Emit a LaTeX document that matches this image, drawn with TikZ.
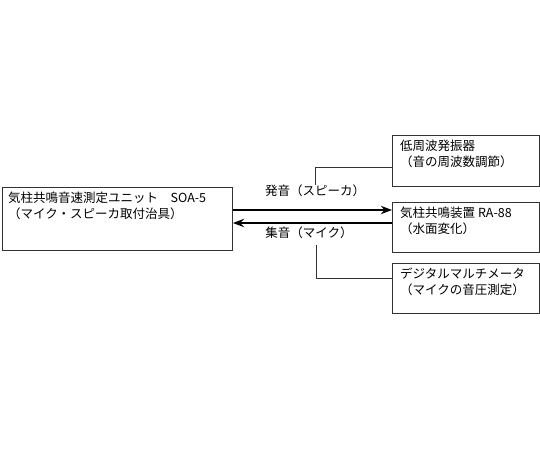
\documentclass[tikz,border=0pt]{standalone}
\usepackage{fontspec}
\setmainfont{Noto Sans CJK JP}
\usetikzlibrary{positioning,arrows.meta,calc}
\definecolor{edge}{HTML}{333333}
\tikzset{
  box/.style={rectangle,draw=edge,line width=0.9pt,inner sep=0pt,anchor=north west},
  txt/.style={inner sep=0pt,anchor=north west,align=left,
    font=\fontsize{12.5}{15.5}\selectfont},
  lbl/.style={inner sep=0pt,font=\fontsize{12.5}{15.5}\selectfont},
  fl/.style={-{Stealth[length=4mm,width=3mm,inset=1.4mm]},draw=black,line width=1.1pt},
  ln/.style={draw=edge,line width=0.7pt},
}
\begin{document}
\begin{tikzpicture}[x=1pt,y=-1pt]
  \useasboundingbox (0,0) rectangle (540,450);
  % boxes
  \node[box,minimum width=230,minimum height=63] (unit) at (2,187) {};
  \node[box,minimum width=147,minimum height=51] (osc) at (392,135) {};
  \node[box,minimum width=147,minimum height=50] (res) at (392,202) {};
  \node[box,minimum width=147,minimum height=50] (dmm) at (392,263) {};
  % texts
  \node[txt] (unitT) at ([shift={(6,5)}]unit.north west)
    {気柱共鳴音速測定ユニット　SOA-5\\（マイク・スピーカ取付治具）};
  \node[txt] (oscT) at ([shift={(8,5)}]osc.north west)
    {低周波発振器\\（音の周波数調節）};
  \node[txt] (resT) at ([shift={(8,5)}]res.north west)
    {気柱共鳴装置 RA-88\\（水面変化）};
  \node[txt] (dmmT) at ([shift={(8,5)}]dmm.north west)
    {デジタルマルチメータ\\（マイクの音圧測定）};
  % arrows
  \draw[fl] (unit.east |- 0,210) -- (res.west |- 0,210);
  \draw[fl] (res.west |- 0,223) -- (unit.east |- 0,223);
  % labels
  \node[lbl] (emit) at (315,191) {発音（スピーカ）};
  \node[lbl] (pick) at (309,233) {集音（マイク）};
  \coordinate (emitTop) at (315,185);
  \coordinate (pickBot) at (316,245);
  \draw[ln] (osc.west |- 0,167) -| (emitTop);
  \draw[ln] (pickBot) |- (dmm.west |- 0,278);
\end{tikzpicture}
\end{document}
